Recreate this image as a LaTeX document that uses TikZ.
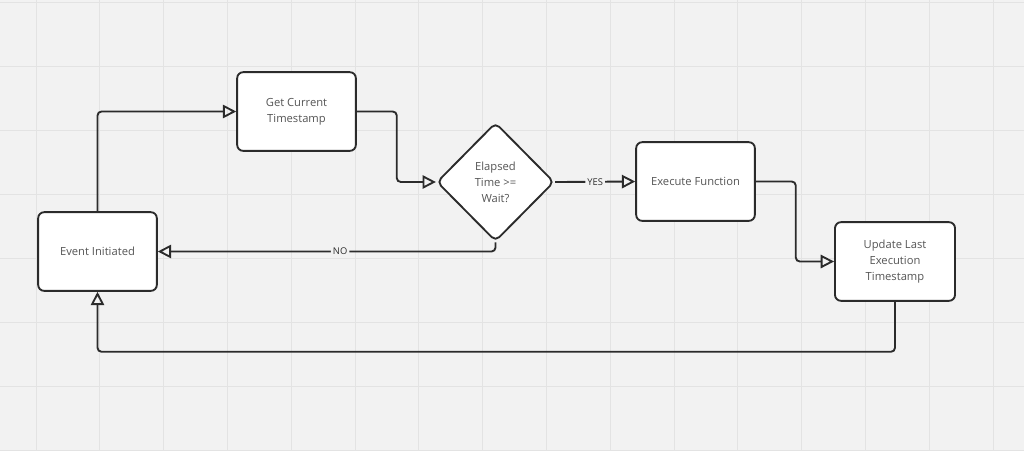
\documentclass[tikz,border=0pt]{standalone}
\usepackage{fontspec}
\setmainfont{Open Sans}
\usetikzlibrary{shapes.geometric,arrows.meta}
\definecolor{canvas}{HTML}{F2F2F2}
\definecolor{gridline}{HTML}{E3E3E3}
\definecolor{ink}{HTML}{2B2B2B}
\definecolor{boxtext}{HTML}{555555}

\begin{document}
\begin{tikzpicture}[x=0.75pt,y=-0.75pt,
    box/.style={rectangle, draw=ink, line width=1.4pt, fill=white, rounded corners=4.5pt,
      minimum width=89pt, minimum height=59pt, align=center, text=boxtext,
      font=\fontsize{8.4}{12}\selectfont},
    decision/.style={diamond, aspect=1, draw=ink, line width=1.4pt, fill=white, rounded corners=4pt,
      minimum width=88pt, minimum height=89pt, inner sep=0pt, align=center, text=boxtext,
      font=\fontsize{8.4}{12}\selectfont},
    link/.style={draw=ink, line width=1.4pt, rounded corners=3pt,
      -{Triangle[open, length=10pt, width=10pt]}},
    tag/.style={fill=canvas, inner sep=1.5pt, text=ink, font=\fontsize{7}{8}\selectfont}]

    % canvas and grid
    \fill[canvas] (0,0) rectangle (1024,451);
    \useasboundingbox (0,0) rectangle (1024,451);
    \foreach \gx in {0,...,15}
        \draw[gridline, line width=0.75pt] ({36+63.8*\gx},0) -- ({36+63.8*\gx},451);
    \foreach \gy in {0,...,7}
        \draw[gridline, line width=0.75pt] (0,{2+64*\gy}) -- (1024,{2+64*\gy});

    \node[box] (event) at (97.5,251.5) {Event Initiated};
    \node[box] (stamp) at (296.5,111.5) {Get Current\\Timestamp};
    \node[decision] (check) at (495.5,182) {Elapsed\\Time >=\\Wait?};
    \node[box] (exec) at (695.5,181.5) {Execute Function};
    \node[box, minimum width=90pt] (update) at (895,261.5) {Update Last\\Execution\\Timestamp};

    \path[link] (event.north) |- (stamp.west);
    \path[link] (stamp.east) -- ++(40,0) |- (check.west);
    \path[link] (check.east) -- node[tag] {YES} (exec.west);
    \path[link] (exec.east) -- ++(40,0) |- (update.west);
    \path[link] (update.south) -- ++(0,50) -| (event.south);
    \path[link] (check.south) |- node[tag, pos=0.73] {NO} (event.east);
\end{tikzpicture}
\end{document}
